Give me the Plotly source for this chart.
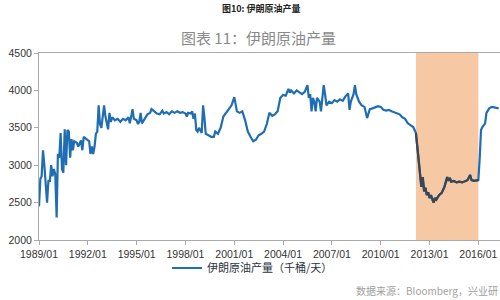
import plotly.graph_objects as go
import pandas as pd

dates = ["1989-01","1989-02","1989-03","1989-04","1989-05","1989-06","1989-07","1989-08","1989-09","1989-10","1989-11","1989-12",
"1990-01","1990-02","1990-03","1990-04","1990-05","1990-06","1990-07","1990-08","1990-09","1990-10","1990-11","1990-12",
"1991-01","1991-02","1991-03","1991-05","1991-06","1991-08","1991-09","1991-10","1991-12",
"1992-02","1992-03","1992-04","1992-05","1992-06","1992-07","1992-08","1992-09","1992-10","1992-11",
"1993-01","1993-02","1993-03","1993-04","1993-05","1993-06","1993-07","1993-09","1993-11",
"1994-01","1994-03","1994-05","1994-07","1994-08","1994-09","1994-10","1994-11",
"1995-01","1995-02","1995-03","1995-04","1995-05","1995-07","1995-09","1995-11","1995-12",
"1996-02","1996-04","1996-06","1996-08","1996-09","1996-11",
"1997-01","1997-03","1997-05","1997-07","1997-09","1997-11",
"1998-01","1998-02","1998-03","1998-05","1998-06","1998-07","1998-08","1998-09","1998-10","1998-11",
"1999-01","1999-02","1999-03","1999-04","1999-06","1999-08","1999-10","1999-11",
"2000-01","2000-03","2000-05","2000-07","2000-09","2000-11",
"2001-01","2001-03","2001-05","2001-07","2001-09","2001-11",
"2002-01","2002-03","2002-05","2002-07","2002-09","2002-11",
"2003-01","2003-02","2003-03","2003-05","2003-07","2003-09","2003-11",
"2004-01","2004-03","2004-05","2004-06","2004-07","2004-09","2004-11",
"2005-01","2005-03","2005-05","2005-07","2005-08","2005-09","2005-10","2005-11","2005-12",
"2006-01","2006-02","2006-04","2006-05","2006-06","2006-07","2006-08","2006-09","2006-11",
"2007-01","2007-03","2007-05","2007-07","2007-09","2007-11",
"2008-01","2008-02","2008-03","2008-05","2008-06","2008-07","2008-09","2008-11",
"2009-01","2009-03","2009-04","2009-05","2009-07","2009-09","2009-11",
"2010-01","2010-03","2010-05","2010-07","2010-09","2010-11",
"2011-01","2011-03","2011-05","2011-07","2011-09","2011-11",
"2012-01","2012-03","2012-04","2012-05","2012-06","2012-07","2012-08","2012-09","2012-10","2012-11","2012-12",
"2013-01","2013-02","2013-03","2013-04","2013-05","2013-06","2013-08","2013-10","2013-12",
"2014-02","2014-03","2014-04","2014-05","2014-07","2014-09","2014-11",
"2015-01","2015-03","2015-05","2015-07","2015-08","2015-10","2015-12",
"2016-01","2016-02","2016-03","2016-04","2016-06","2016-07","2016-09","2016-11",
"2017-01","2017-03","2017-04"]

output = [2450,2820,2850,3200,3000,2750,2500,2800,2780,3000,2850,2950,
2880,2300,3150,3100,3430,2950,2900,3480,3000,3470,3450,3100,
3350,3200,3320,3300,3250,3330,3200,3380,3350,
3320,3150,3250,3150,3250,3420,3450,3800,3550,3500,
3800,3650,3550,3480,3700,3580,3640,3600,3620,
3580,3620,3600,3640,3560,3650,3750,3620,
3600,3550,3580,3700,3560,3620,3680,3700,3750,
3720,3690,3680,3730,3690,3710,
3680,3720,3700,3720,3700,3710,
3690,3650,3700,3690,3720,3620,3690,3470,3450,3500,
3430,3800,3650,3420,3400,3380,3380,3450,
3420,3500,3650,3700,3750,3800,
3910,3720,3700,3720,3600,3450,
3380,3320,3340,3400,3420,3450,
3550,3620,3700,3660,3680,3720,3900,
3940,3930,4020,3970,4000,3960,4000,
3980,3950,3980,4070,3900,3950,3720,3900,3850,
3720,3900,3850,3720,3950,4070,3950,3800,3850,
3830,3870,3850,3880,3860,3920,
3960,3740,3850,3950,4070,3950,3850,3800,
3780,3630,3700,3750,3760,3770,3790,
3780,3740,3730,3740,3720,3710,
3690,3680,3640,3620,3560,3540,
3510,3430,3250,3070,2900,2710,2840,2650,2700,2600,2640,
2560,2600,2540,2500,2560,2540,2600,2630,2710,
2840,2790,2830,2780,2790,2770,2780,
2770,2790,2800,2870,2800,2790,2790,
2800,3100,3470,3510,3560,3700,3760,3780,
3770,3760,3760]

shade_start = "2012-03-01"
shade_end = "2016-01-01"

df = pd.DataFrame({"date": pd.to_datetime(dates), "val": output})
inside = df[(df["date"] >= pd.Timestamp(shade_start)) & (df["date"] <= pd.Timestamp(shade_end))]

fig = go.Figure()
fig.add_trace(go.Scatter(x=df["date"], y=df["val"], mode="lines",
                         line=dict(color="#1f6db3", width=2.2),
                         name="伊朗原油产量（千桶/天）"))
fig.add_trace(go.Scatter(x=inside["date"], y=inside["val"], mode="lines",
                         line=dict(color="#3b4652", width=2.2),
                         showlegend=False, hoverinfo="skip"))

fig.add_shape(type="rect", xref="x", yref="paper", x0=shade_start, x1=shade_end,
              y0=0, y1=1, fillcolor="#f6c9a4", line=dict(width=0), layer="below")

fig.add_annotation(text="<b>图10: 伊朗原油产量</b>", xref="paper", yref="paper",
                   x=(261-39)/461, y=1+ (53-9)/187, xanchor="center", yanchor="middle",
                   showarrow=False, font=dict(size=9, color="#222", family="Noto Sans CJK SC"))
fig.add_annotation(text="图表 11：伊朗原油产量", xref="paper", yref="paper",
                   x=(258-39)/461, y=1+(53-37)/187, xanchor="center", yanchor="middle",
                   showarrow=False, font=dict(size=15, color="#8a8a8a", family="Noto Sans CJK SC"))
fig.add_annotation(text="数据来源：Bloomberg，兴业研", xref="paper", yref="paper",
                   x=1, y=-(290-240)/187, xanchor="right", yanchor="middle",
                   showarrow=False, font=dict(size=10, color="#a0a0a0", family="Noto Sans CJK SC"))

fig.update_layout(
    width=500, height=300,
    margin=dict(l=39, r=0, t=53, b=60),
    paper_bgcolor="white", plot_bgcolor="white",
    font=dict(family="Noto Sans CJK SC", size=10, color="#333"),
    showlegend=True,
    legend=dict(orientation="h", x=(167-39)/461, y=-(268-240)/187, xanchor="left", yanchor="middle",
                font=dict(size=11, color="#2a3440"), bgcolor="rgba(0,0,0,0)"),
)
fig.update_xaxes(range=["1989-01-01", "2017-05-01"], tickmode="linear", tick0="1989-01-01", dtick="M36",
                 tickformat="%Y/%m", showgrid=False, showline=True, linecolor="#aaaaaa", linewidth=1,
                 mirror=True, ticks="outside", ticklen=4, tickcolor="#aaaaaa",
                 tickfont=dict(size=10.5, color="#333", family="Liberation Sans"))
fig.update_yaxes(range=[2000, 4500], dtick=500, showgrid=False, showline=True, linecolor="#aaaaaa",
                 linewidth=1, ticks="outside", ticklen=4, tickcolor="#aaaaaa", zeroline=False,
                 tickfont=dict(size=10.5, color="#333", family="Liberation Sans"))

fig.write_html("out.html")
